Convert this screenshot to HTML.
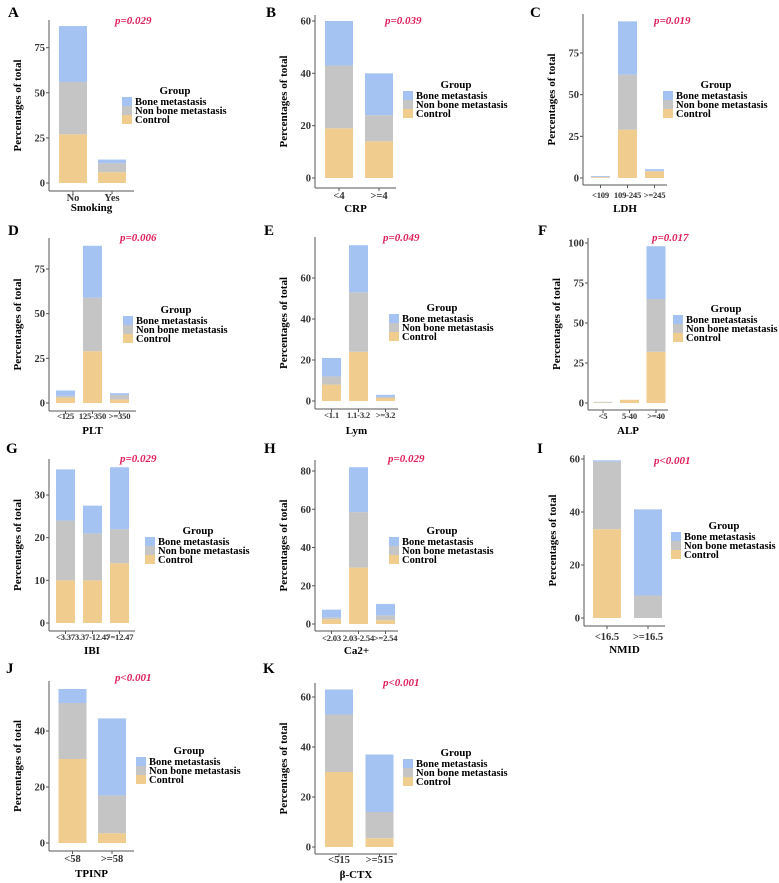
<!DOCTYPE html>
<html><head><meta charset="utf-8"><style>
html,body{margin:0;padding:0;background:#fff;}
svg{display:block;font-family:"Liberation Serif",serif;font-weight:bold;}
</style></head><body>
<svg id="fig" width="779" height="883" viewBox="0 0 779 883" xmlns="http://www.w3.org/2000/svg"></svg>
<script>
// ---- data ----
const catA=["No","Yes"], ctrlA=[27,6], nonA=[29,5], boneA=[31,2], ticksA=[0,25,50,75];
const catB=["<4",">=4"], ctrlB=[19,14], nonB=[24,10], boneB=[17,16], ticksB=[0,20,40,60];
const catC=["<109","109-245",">=245"], ctrlC=[0.5,29,4], nonC=[0.2,33,0.3], boneC=[0.5,32,1], ticksC=[0,25,50,75];
const catD=["<125","125-350",">=350"], ctrlD=[3,29,2], nonD=[1,30,2.5], boneD=[3,29,1], ticksD=[0,25,50,75];
const catE=["<1.1","1.1-3.2",">=3.2"], ctrlE=[8,24,1.5], nonE=[4,29,0.5], boneE=[9,23,1], ticksE=[0,20,40,60];
const catF=["<5","5-40",">=40"], ctrlF=[0.3,2,32], nonF=[0.2,0,33], boneF=[0.2,0,33], ticksF=[0,25,50,75,100];
const catG=["<3.37","3.37-12.47",">=12.47"], ctrlG=[10,10,14], nonG=[14,11,8], boneG=[12,6.5,14.5], ticksG=[0,10,20,30];
const catH=["<2.03","2.03-2.54",">=2.54"], ctrlH=[2.5,29.5,2], nonH=[1,29,2.5], boneH=[4,23.5,6], ticksH=[0,20,40,60,80];
const catI=["<16.5",">=16.5"], ctrlI=[33.5,0], nonI=[25.5,8.5], boneI=[0.5,32.5], ticksI=[0,20,40,60];
const catJ=["<58",">=58"], ctrlJ=[30,3.5], nonJ=[20,13.5], boneJ=[5,27.5], ticksJ=[0,20,40];
const catK=["<515",">=515"], ctrlK=[30,3.5], nonK=[23,10.5], boneK=[10,23], ticksK=[0,20,40,60];
const pvals=["p=0.029","p=0.039","p=0.019","p=0.006","p=0.049","p=0.017","p=0.029","p=0.029","p<0.001","p<0.001","p<0.001"];

// ---- layout (pixels) ----
const panels=[
 {id:"A",cat:catA,c:ctrlA,n:nonA,b:boneA,t:ticksA,title:"Smoking",ax:49,y0:183,s:(183-47.7)/75,top:20,xl:191,xr:134,bx:[73,112],bw:28,ly:201,ty:211,lgx:122,lgy:90,px:115,py:20,lx:8,lyy:12},
 {id:"B",cat:catB,c:ctrlB,n:nonB,b:boneB,t:ticksB,title:"CRP",ax:315,y0:178,s:157/60,top:15,xl:188,xr:396,bx:[339,379],bw:28,ly:199,ty:212,lgx:403,lgy:84,px:385,py:20,lx:266,lyy:12},
 {id:"C",cat:catC,c:ctrlC,n:nonC,b:boneC,t:ticksC,title:"LDH",ax:583,y0:178,s:125/75,top:14,xl:185,xr:667,bx:[600.5,627.5,654.5],bw:19,ly:198,ty:212,lgx:663,lgy:84,px:654,py:20,lx:530,lyy:12},
 {id:"D",cat:catD,c:ctrlD,n:nonD,b:boneD,t:ticksD,title:"PLT",ax:49,y0:403,s:134/75,top:238,xl:411,xr:136,bx:[65.5,92.5,119.5],bw:19,ly:419,ty:434,lgx:123,lgy:309,px:120,py:237,lx:8,lyy:230},
 {id:"E",cat:catE,c:ctrlE,n:nonE,b:boneE,t:ticksE,title:"Lym",ax:315,y0:401,s:123/60,top:237,xl:409,xr:398,bx:[331.5,358.5,385.5],bw:19,ly:418,ty:434,lgx:389,lgy:307,px:383,py:237,lx:264,lyy:230},
 {id:"F",cat:catF,c:ctrlF,n:nonF,b:boneF,t:ticksF,title:"ALP",ax:588,y0:403,s:160/100,top:238,xl:410,xr:668,bx:[603,629.5,656],bw:19,ly:419,ty:434,lgx:673,lgy:308,px:652,py:237,lx:538,lyy:230},
 {id:"G",cat:catG,c:ctrlG,n:nonG,b:boneG,t:ticksG,title:"IBI",ax:49,y0:623,s:128/30,top:459,xl:631,xr:135,bx:[65.5,92.5,119.5],bw:19,ly:640,ty:654,lgx:145,lgy:530,px:120,py:458,lx:6,lyy:448},
 {id:"H",cat:catH,c:ctrlH,n:nonH,b:boneH,t:ticksH,title:"Ca2+",ax:315,y0:624,s:153/80,top:460,xl:631,xr:398,bx:[331.5,358.5,385.5],bw:19,ly:641,ty:654,lgx:389,lgy:530,px:388,py:458,lx:264,lyy:448},
 {id:"I",cat:catI,c:ctrlI,n:nonI,b:boneI,t:ticksI,title:"NMID",ax:584,y0:618,s:159/60,top:455,xl:626,xr:665,bx:[607,648],bw:28,ly:640,ty:653,lgx:671,lgy:525,px:654,py:460,lx:537,lyy:448},
 {id:"J",cat:catJ,c:ctrlJ,n:nonJ,b:boneJ,t:ticksJ,title:"TPINP",ax:49,y0:843,s:112/40,top:681,xl:851,xr:134,bx:[72.5,112],bw:28,ly:862,ty:877,lgx:136,lgy:750,px:115,py:677,lx:6,lyy:668},
 {id:"K",cat:catK,c:ctrlK,n:nonK,b:boneK,t:ticksK,title:"β-CTX",ax:315,y0:847,s:150/60,top:683,xl:854,xr:397,bx:[339,379.5],bw:28,ly:863,ty:878,lgx:403,lgy:752,px:383,py:682,lx:263,lyy:668}
];
const colors={b:"#a5c3f2",n:"#c5c5c5",c:"#f0cd8f"};
const NS="http://www.w3.org/2000/svg";
const fig=document.getElementById("fig");
function mk(tag,attrs,parent,text){const e=document.createElementNS(NS,tag);for(const k in attrs)e.setAttribute(k,attrs[k]);if(text!==undefined)e.textContent=text;parent.appendChild(e);return e;}

panels.forEach((P,pi)=>{
  const g=mk("g",{},fig);
  
  
  const yS=v=>P.y0-v*P.s;
  const lab=mk("text",{x:P.lx,y:P.lyy+5,"font-size":15},g,P.id);
  
  
  const three=P.cat.length>2;
  P.cat.forEach((cat,i)=>{
    const x=P.bx[i]-P.bw/2;
    let base=0;
    [["c",P.c[i]],["n",P.n[i]],["b",P.b[i]]].forEach(([k,v])=>{
      if(v<=0)return;
      const r=mk("rect",{x:x,y:yS(base+v),width:P.bw,height:v*P.s,fill:colors[k]},g);
      
      
      base+=v;
    });
    const fs=three?8.6:10.5;
    const xt=mk("text",{x:P.bx[i],y:P.ly,"font-size":fs,"text-anchor":"middle",fill:"#333","letter-spacing":three?"-0.2":"0"},g,cat);
    
    
    mk("line",{x1:P.bx[i],x2:P.bx[i],y1:P.xl,y2:P.xl+3,stroke:"#555","stroke-width":1},g);
  });
  const ya=mk("line",{x1:P.ax,x2:P.ax,y1:P.top,y2:P.xl,stroke:"#555","stroke-width":1},g);
  
  
  const xa=mk("line",{x1:P.ax,x2:P.xr,y1:P.xl,y2:P.xl,stroke:"#555","stroke-width":1},g);
  
  
  P.t.forEach(t=>{
    const yy=yS(t);
    mk("line",{x1:P.ax-3,x2:P.ax,y1:yy,y2:yy,stroke:"#555","stroke-width":1},g);
    const tl=mk("text",{x:P.ax-4,y:yy+3.5,"font-size":10.5,"text-anchor":"end",fill:"#333"},g,String(t));
    
    
  });
  const midY=(P.top+P.xl)/2;
  const yt=mk("text",{x:P.ax-28,y:midY,"font-size":11,"text-anchor":"middle",transform:`rotate(-90 ${P.ax-28} ${midY})`},g,"Percentages of total");
  
  
  const xtt=mk("text",{x:(P.ax+P.xr)/2,y:P.ty,"font-size":11,"text-anchor":"middle"},g,P.title);
  
  
  const pt=mk("text",{x:P.px,y:P.py+4,"font-size":11,"font-style":"italic",fill:"#e0205a"},g,pvals[pi]);
  
  
  const lg=mk("g",{},g);
  
  
  const lt=mk("text",{x:P.lgx+53,y:P.lgy+4,"font-size":11,"text-anchor":"middle"},lg,"Group");
  
  
  [["b","Bone metastasis"],["n","Non bone metastasis"],["c","Control"]].forEach(([k,name],j)=>{
    const yy=P.lgy+7+j*9;
    mk("rect",{x:P.lgx,y:yy,width:10,height:9,fill:colors[k]},lg);
    const et=mk("text",{x:P.lgx+13,y:yy+8,"font-size":10.5},lg,name);
    
    
  });
});
</script>
</body></html>
